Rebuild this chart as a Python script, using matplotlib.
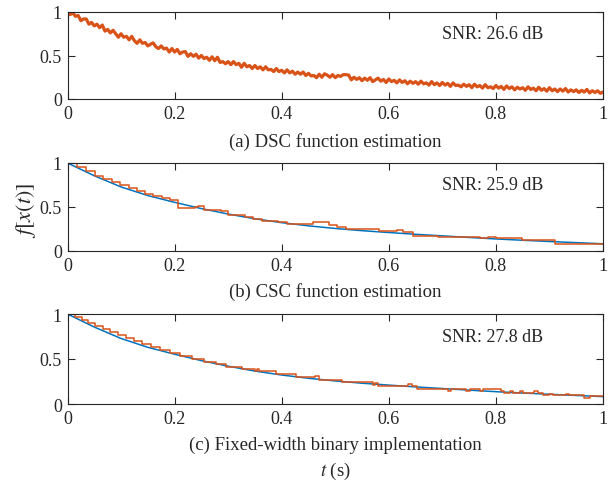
import matplotlib
matplotlib.use("Agg")
import matplotlib.pyplot as plt
import numpy as np

plt.rcParams['font.family'] = ['Liberation Serif', 'DejaVu Serif']
plt.rcParams['mathtext.fontset'] = 'stix'

BLUE = '#0072BD'
ORANGE = '#D95319'
GREY = '#262626'

# true function f[x(t)], read at steps of 0.05 s
t_true = [0.0, 0.05, 0.1, 0.15, 0.2, 0.25, 0.3, 0.35, 0.4, 0.45, 0.5,
          0.55, 0.6, 0.65, 0.7, 0.75, 0.8, 0.85, 0.9, 0.95, 1.0]
f_true = [1.0, 0.855, 0.728, 0.63, 0.553, 0.482, 0.42, 0.366, 0.322, 0.286, 0.256,
          0.231, 0.21, 0.19, 0.172, 0.154, 0.137, 0.122, 0.108, 0.095, 0.082]

# (a) DSC estimate, sampled every 5 ms
dsc_vals = [
    1.00, 0.97, 0.99, 0.95, 0.96, 0.90, 0.92, 0.92, 0.86, 0.88,
    0.84, 0.86, 0.82, 0.85, 0.78, 0.80, 0.76, 0.79, 0.75, 0.71,
    0.75, 0.71, 0.72, 0.68, 0.72, 0.67, 0.64, 0.68, 0.64, 0.65,
    0.61, 0.63, 0.645, 0.60, 0.58, 0.61, 0.575, 0.585, 0.54, 0.58,
    0.54, 0.57, 0.52, 0.54, 0.545, 0.49, 0.52, 0.49, 0.515, 0.47,
    0.50, 0.465, 0.48, 0.445, 0.485, 0.44, 0.48, 0.42, 0.43, 0.405,
    0.43, 0.395, 0.43, 0.395, 0.41, 0.365, 0.41, 0.37, 0.385, 0.35,
    0.385, 0.35, 0.37, 0.335, 0.37, 0.335, 0.34, 0.315, 0.35, 0.315,
    0.33, 0.30, 0.335, 0.30, 0.32, 0.285, 0.31, 0.285, 0.31, 0.27,
    0.295, 0.265, 0.27, 0.245, 0.285, 0.25, 0.29, 0.275, 0.25, 0.28,
    0.245, 0.27, 0.26, 0.28, 0.28, 0.275, 0.22, 0.25, 0.225, 0.245,
    0.21, 0.24, 0.215, 0.245, 0.20, 0.22, 0.24, 0.205, 0.225, 0.19,
    0.23, 0.20, 0.215, 0.185, 0.22, 0.19, 0.21, 0.175, 0.205, 0.18,
    0.20, 0.17, 0.205, 0.175, 0.185, 0.16, 0.20, 0.165, 0.185, 0.155,
    0.19, 0.16, 0.18, 0.145, 0.185, 0.155, 0.16, 0.14, 0.17, 0.145,
    0.165, 0.13, 0.17, 0.14, 0.155, 0.125, 0.165, 0.13, 0.14, 0.12,
    0.155, 0.125, 0.145, 0.11, 0.15, 0.12, 0.14, 0.105, 0.135, 0.115,
    0.13, 0.10, 0.14, 0.11, 0.125, 0.095, 0.135, 0.10, 0.12, 0.09,
    0.13, 0.095, 0.115, 0.085, 0.115, 0.09, 0.12, 0.08, 0.105, 0.085,
    0.105, 0.075, 0.10, 0.08, 0.11, 0.07, 0.095, 0.075, 0.095, 0.065, 0.08,
]
dsc_t = np.linspace(0, 1, len(dsc_vals))

# (b) CSC estimate: change times and held values
csc_t = [0.0, 0.018, 0.0345, 0.051, 0.067, 0.083, 0.098, 0.114, 0.129, 0.145,
         0.160, 0.176, 0.191, 0.207, 0.238, 0.244, 0.255, 0.286, 0.300, 0.331,
         0.347, 0.363, 0.393, 0.409, 0.458, 0.489, 0.503, 0.520, 0.582, 0.615,
         0.627, 0.645, 0.692, 0.739, 0.770, 0.786, 0.800, 0.848, 0.910, 1.0]
csc_v = [1.0, 0.95, 0.905, 0.855, 0.815, 0.78, 0.745, 0.715, 0.68, 0.65,
         0.625, 0.60, 0.575, 0.485, 0.50, 0.51, 0.47, 0.458, 0.413, 0.39,
         0.364, 0.345, 0.326, 0.303, 0.326, 0.292, 0.269, 0.254, 0.227, 0.235,
         0.212, 0.174, 0.16, 0.163, 0.145, 0.16, 0.145, 0.125, 0.085, 0.085]

# (c) fixed-width binary: change times and held values
bin_t = [0.0, 0.014, 0.0265, 0.039, 0.051, 0.067, 0.079, 0.095, 0.109, 0.124,
         0.140, 0.155, 0.173, 0.191, 0.210, 0.232, 0.255, 0.277, 0.296, 0.325,
         0.350, 0.353, 0.357, 0.390, 0.427, 0.462, 0.470, 0.512, 0.571, 0.575,
         0.580, 0.636, 0.644, 0.652, 0.711, 0.716, 0.745, 0.752, 0.770, 0.776,
         0.810, 0.816, 0.826, 0.832, 0.845, 0.851, 0.872, 0.878, 0.888, 0.900,
         0.906, 0.930, 0.936, 0.965, 0.975, 1.0]
bin_v = [1.0, 0.967, 0.934, 0.901, 0.868, 0.835, 0.802, 0.769, 0.736, 0.703,
         0.670, 0.637, 0.604, 0.571, 0.538, 0.505, 0.472, 0.445, 0.415, 0.385,
         0.362, 0.385, 0.362, 0.330, 0.295, 0.315, 0.268, 0.240, 0.212, 0.235,
         0.200, 0.222, 0.200, 0.172, 0.150, 0.172, 0.150, 0.165, 0.150, 0.165,
         0.140, 0.120, 0.140, 0.120, 0.140, 0.120, 0.140, 0.120, 0.095, 0.115,
         0.095, 0.115, 0.095, 0.065, 0.090, 0.090]

snr_labels = ['SNR: 26.6 dB', 'SNR: 25.9 dB', 'SNR: 27.8 dB']
captions = ['(a) DSC function estimation', '(b) CSC function estimation',
            '(c) Fixed-width binary implementation']

W, H = 615, 485
fig = plt.figure(figsize=(W / 100, H / 100), dpi=100)

# axes boxes in pixels: top, bottom
boxes = [(13, 100), (164, 252), (315, 405)]
left, right = 67.5, 603
axes = []
for top, bot in boxes:
    ax = fig.add_axes([left / W, 1 - bot / H, (right - left) / W, (bot - top) / H])
    axes.append(ax)

axes[0].plot(dsc_t, dsc_vals, color=ORANGE, lw=2.3)

axes[1].plot(t_true, f_true, color=BLUE, lw=1.1)
axes[1].step(csc_t, csc_v, where='post', color=ORANGE, lw=1.1)

axes[2].plot(t_true, f_true, color=BLUE, lw=1.1)
axes[2].step(bin_t, bin_v, where='post', color=ORANGE, lw=1.1)

xt = [0, 0.2, 0.4, 0.6, 0.8, 1]
for i, ax in enumerate(axes):
    ax.set_xlim(0, 1)
    ax.set_ylim(0, 1)
    ax.set_xticks(xt)
    ax.set_xticklabels(['0', '0.2', '0.4', '0.6', '0.8', '1'])
    ax.set_yticks([0, 0.5, 1])
    ax.set_yticklabels(['0', '0.5', '1'])
    ax.tick_params(direction='in', top=True, right=True, length=5, width=0.8,
                   labelsize=13, colors=GREY, pad=4)
    for s in ax.spines.values():
        s.set_color(GREY)
        s.set_linewidth(0.8)
    ax.text(0.70, 0.75, snr_labels[i], transform=ax.transAxes, fontsize=13,
            color=GREY, va='center', ha='left')

cx = (left + right) / 2 / W
for y, txt in zip([142, 292, 445], captions):
    fig.text(cx, 1 - y / H, txt, ha='center', va='center', fontsize=13.5, color=GREY)
fig.text(cx, 1 - 471 / H, r'$t$ (s)', ha='center', va='center', fontsize=13.5, color=GREY)
fig.text(26 / W, 1 - 210 / H, r'$f[x(t)]$', rotation=90, ha='center', va='center',
         fontsize=16, color=GREY)

fig.savefig('out.png', dpi=100)
